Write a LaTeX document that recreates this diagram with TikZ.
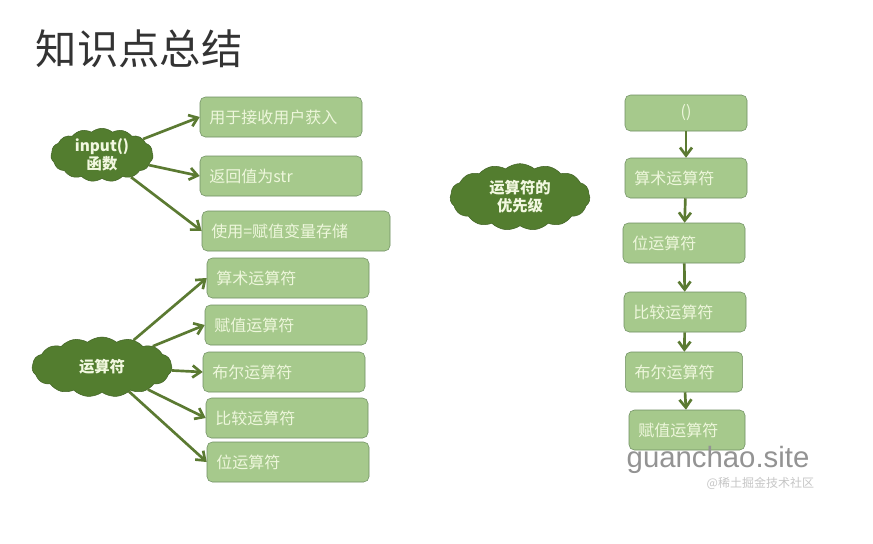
\documentclass[tikz,border=0pt]{standalone}
\usepackage{fontspec}
\setmainfont{Noto Sans CJK SC}
\newfontfamily\wmfont{Liberation Sans}
\usepackage{tikz}
\usetikzlibrary{shapes.symbols,arrows.meta,positioning}
\definecolor{boxfill}{HTML}{A6C98C}
\definecolor{boxline}{HTML}{6F8F62}
\definecolor{boxtext}{HTML}{EEF7DC}
\definecolor{blobfill}{HTML}{537D2F}
\definecolor{blobtext}{HTML}{F2F8E0}
\definecolor{arrcol}{HTML}{5B7A32}
\tikzset{
	x=0.75pt, y=-0.75pt,
	box/.style ={draw=boxline, fill=boxfill, rounded corners=4pt, text=boxtext,
	  minimum height=30pt, inner xsep=7pt, text width=#1, align=left,
	  font=\fontsize{12}{14}\selectfont},
	blob/.style = {cloud, cloud puffs=15, cloud puff arc=80, aspect=2.2,
	  draw=blobfill!80!black, fill=blobfill, text=blobtext, inner sep=0pt,
	  align=center, font=\fontsize{11.5}{13.5}\selectfont\bfseries},
	arr/.style = {-{Straight Barb[length=6pt,width=9pt]}, arrcol, line width=2pt},
}

\begin{document}
\begin{tikzpicture}
    \useasboundingbox[fill=white] (0,0) rectangle (873,543);
    \node[anchor=west, text=black!80, font=\fontsize{31}{36}\selectfont] (title) at (31,49) {知识点总结};
    % input() function
    \node[blob, minimum width=76pt, minimum height=40pt] (in1) at (102,155) {input()\\函数};
    \node[box=107.5pt] (a1) at (281,117) {用于接收用户获入};
    \node[box=107.5pt] (a2) at (281,176) {返回值为str};
    \node[box=127pt] (a3) at (296,231) {使用=赋值变量存储};
    \foreach \t in {a1,a2,a3}
      \draw[arr] (in1) -- (\t.west);
    % operators
    \node[blob, minimum width=105pt, minimum height=45pt] (op) at (102,367) {运算符};
    \node[box=107.5pt] (b1) at (288,278) {算术运算符};
    \node[box=107.5pt] (b2) at (286,325) {赋值运算符};
    \node[box=107.5pt] (b3) at (284,372) {布尔运算符};
    \node[box=107.5pt] (b4) at (287,418) {比较运算符};
    \node[box=107.5pt] (b5) at (288,462) {位运算符};
    \foreach \t in {b1,b2,b3,b4,b5}
      \draw[arr] (op) -- (\t.west);
    % precedence
    \node[blob, minimum width=105pt, minimum height=50pt] (pri) at (520,197) {运算符的\\优先级};
    \node[box=77.5pt, minimum height=27pt, align=center] (p0) at (686,113) {()};
    \node[box=77.5pt] (p1) at (686,178) {算术运算符};
    \node[box=77.5pt] (p2) at (684,243) {位运算符};
    \node[box=77.5pt] (p3) at (685,312) {比较运算符};
    \node[box=74pt] (p4) at (684,372) {布尔运算符};
    \node[box=73pt] (p5) at (687,430) {赋值运算符};
    \draw[arr] (p0) -- (p1);
    \draw[arr] (p1) -- (p2);
    \draw[arr] (p2) -- (p3);
    \draw[arr] (p3) -- (p4);
    \draw[arr] (p4) -- (p5);
    % watermark
    \node[anchor=west, text=gray!85, font=\wmfont\fontsize{22}{24}\selectfont] (wm) at (622,460) {guanchao.site};
    \node[anchor=west, text=gray!45, font=\fontsize{9}{10}\selectfont] (wm2) at (702,483) {@稀土掘金技术社区};
\end{tikzpicture}
\end{document}
